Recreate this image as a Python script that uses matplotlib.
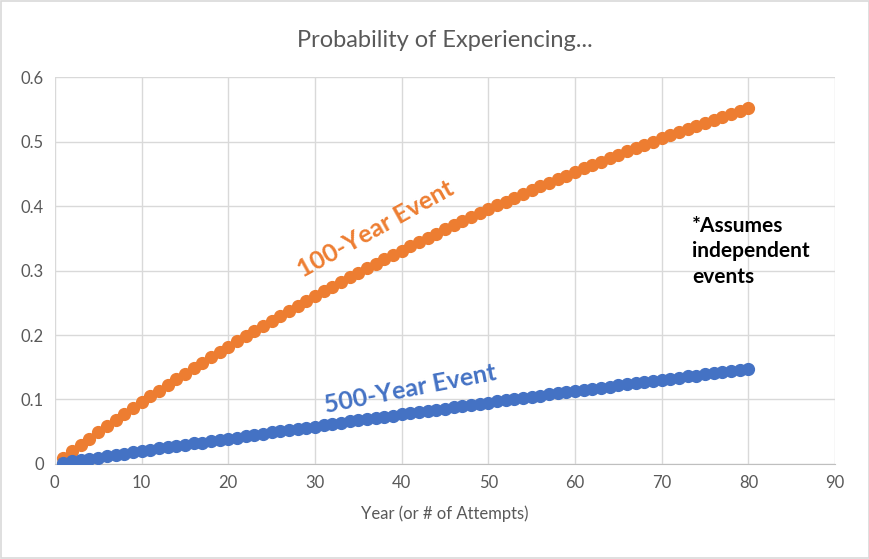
import matplotlib
matplotlib.use('Agg')
import matplotlib.pyplot as plt

years = list(range(1, 81))

# probability of at least one 100-year event
p_100 = [0.0100, 0.0199, 0.0297, 0.0394, 0.0490, 0.0585, 0.0679, 0.0773, 0.0865, 0.0956,
         0.1047, 0.1136, 0.1225, 0.1313, 0.1399, 0.1485, 0.1571, 0.1655, 0.1738, 0.1821,
         0.1903, 0.1984, 0.2064, 0.2143, 0.2222, 0.2300, 0.2377, 0.2453, 0.2528, 0.2603,
         0.2677, 0.2750, 0.2823, 0.2894, 0.2966, 0.3036, 0.3106, 0.3175, 0.3243, 0.3310,
         0.3377, 0.3444, 0.3509, 0.3574, 0.3638, 0.3702, 0.3765, 0.3827, 0.3889, 0.3950,
         0.4011, 0.4071, 0.4130, 0.4189, 0.4247, 0.4304, 0.4361, 0.4418, 0.4473, 0.4528,
         0.4583, 0.4637, 0.4691, 0.4744, 0.4796, 0.4848, 0.4900, 0.4951, 0.5001, 0.5051,
         0.5100, 0.5149, 0.5198, 0.5246, 0.5293, 0.5340, 0.5387, 0.5433, 0.5479, 0.5524]

# probability of at least one 500-year event
p_500 = [0.002, 0.004, 0.006, 0.008, 0.010, 0.012, 0.014, 0.016, 0.018, 0.020,
         0.022, 0.024, 0.026, 0.028, 0.030, 0.032, 0.033, 0.035, 0.037, 0.039,
         0.041, 0.043, 0.045, 0.047, 0.049, 0.051, 0.053, 0.055, 0.056, 0.058,
         0.060, 0.062, 0.064, 0.066, 0.068, 0.070, 0.071, 0.073, 0.075, 0.077,
         0.079, 0.081, 0.082, 0.084, 0.086, 0.088, 0.090, 0.092, 0.093, 0.095,
         0.097, 0.099, 0.101, 0.102, 0.104, 0.106, 0.108, 0.110, 0.111, 0.113,
         0.115, 0.117, 0.118, 0.120, 0.122, 0.124, 0.125, 0.127, 0.129, 0.131,
         0.132, 0.134, 0.136, 0.137, 0.139, 0.141, 0.143, 0.144, 0.146, 0.148]

x_ticks = [0, 10, 20, 30, 40, 50, 60, 70, 80, 90]
y_ticks = [0, 0.1, 0.2, 0.3, 0.4, 0.5, 0.6]
y_labels = ['0', '0.1', '0.2', '0.3', '0.4', '0.5', '0.6']

orange = '#ED7D31'
blue = '#4472C4'
grey = '#595959'

plt.rcParams['font.family'] = ['Lato', 'DejaVu Sans']

fig = plt.figure(figsize=(8.7, 5.59), dpi=100)
fig.patches.append(plt.Rectangle((0.001, 0.001), 0.998, 0.997, transform=fig.transFigure,
                                 fill=False, edgecolor='#D9D9D9', linewidth=1.2))
ax = fig.add_axes([0.063, 0.170, 0.897, 0.692])

ax.plot(years, p_100, color=orange, marker='o', markersize=8.5, linewidth=2.5, zorder=3)
ax.plot(years, p_500, color=blue, marker='o', markersize=8.5, linewidth=2.5, zorder=3)

ax.set_xlim(0, 90)
ax.set_ylim(0, 0.6)
ax.set_xticks(x_ticks)
ax.set_yticks(y_ticks)
ax.set_yticklabels(y_labels)
ax.grid(color='#D9D9D9', linewidth=1)
ax.set_axisbelow(True)
for s in ['top', 'right', 'left']:
    ax.spines[s].set_visible(False)
ax.spines['bottom'].set_color('#BFBFBF')
ax.tick_params(length=0, labelsize=12, colors=grey, pad=8)

ax.set_title('Probability of Experiencing...', fontsize=17, color=grey, pad=22)
ax.set_xlabel('Year (or # of Attempts)', fontsize=12, color=grey, labelpad=10)

ax.text(37, 0.365, '100-Year Event', color=orange, fontsize=18, fontweight='bold',
        rotation=29, ha='center', va='center', rotation_mode='anchor')
ax.text(41, 0.117, '500-Year Event', color=blue, fontsize=18, fontweight='bold',
        rotation=11, ha='center', va='center', rotation_mode='anchor')
ax.text(73.5, 0.385, '*Assumes\nindependent\nevents', color='black', fontsize=15,
        fontweight='bold', ha='left', va='top', linespacing=1.35)

fig.savefig('out.png', dpi=100)
